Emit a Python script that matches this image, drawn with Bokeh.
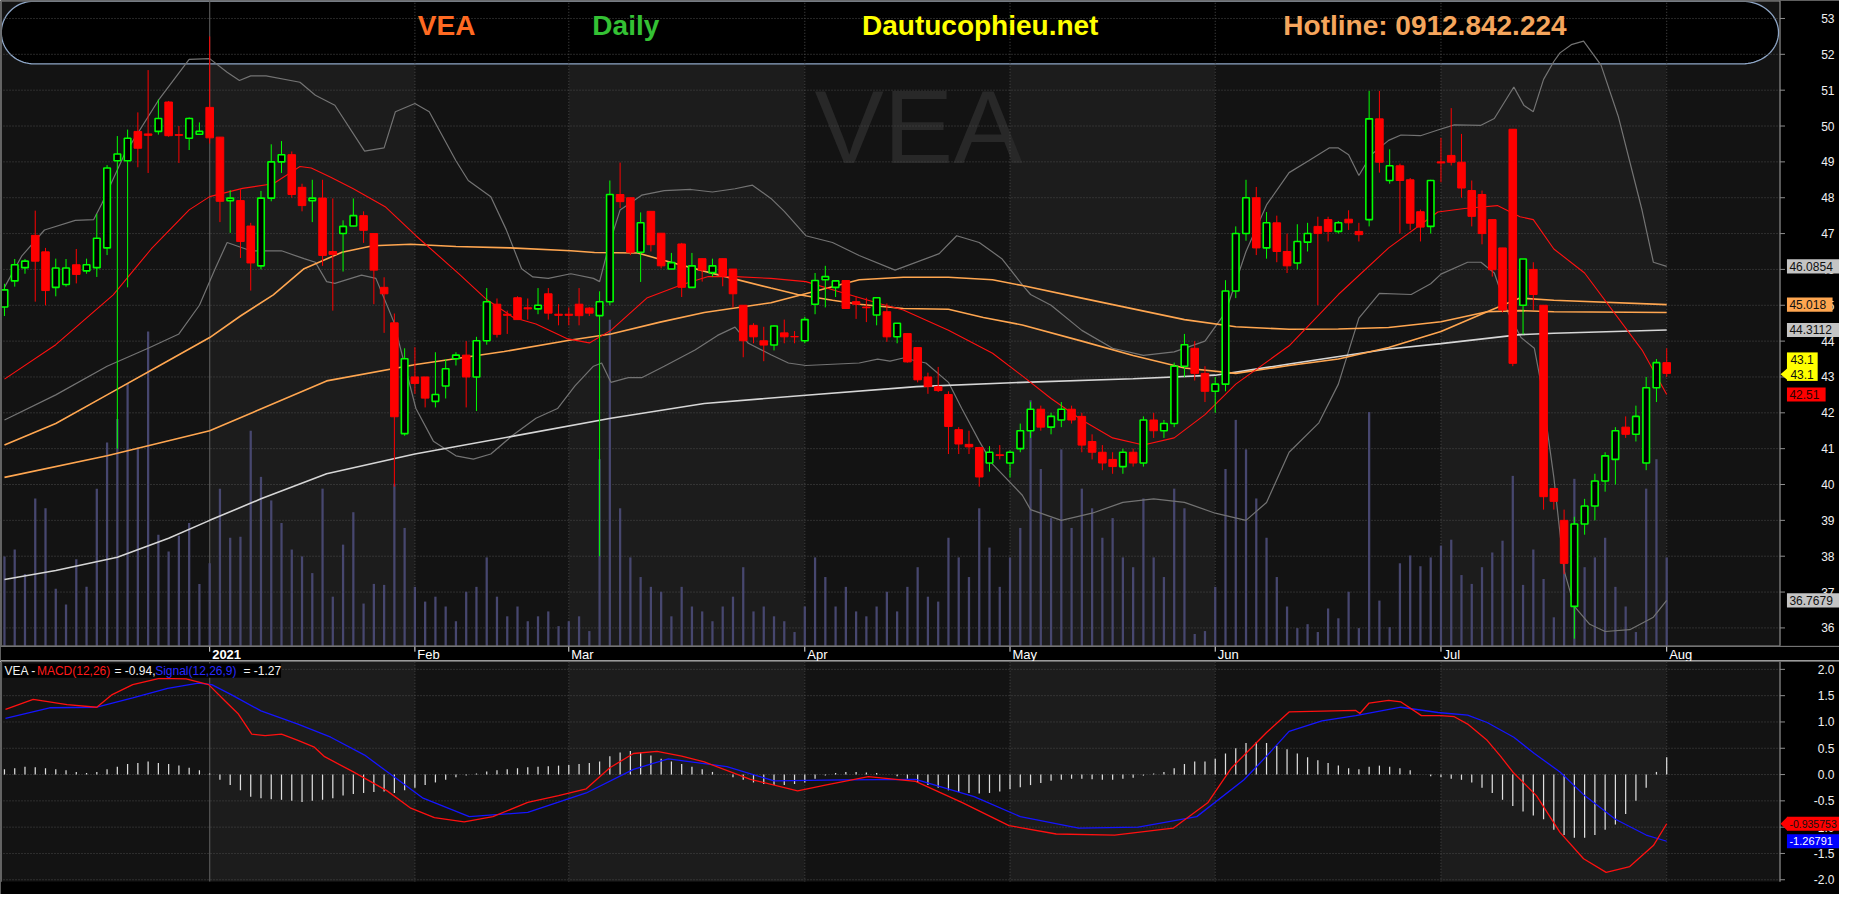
import math
from bokeh.plotting import figure
from bokeh.layouts import column
from bokeh.models import Range1d
from bokeh.core.properties import value
from bokeh.embed import file_html
from bokeh.resources import INLINE

# ============================ DATA ============================
ticker = "VEA"
tick_labels = ["2021", "Feb", "Mar", "Apr", "May", "Jun", "Jul", "Aug"]
tick_bars = [20, 40, 55, 78, 98, 118, 140, 162]      # bar index of first session of month

open_ = [44.95, 45.68, 46.05, 46.95, 46.49, 45.50, 45.58, 46.13, 45.96, 46.05,
         46.60, 49.03, 49.03, 49.85, 49.78, 49.85, 50.67, 49.76, 49.66, 49.77,
         50.52, 49.69, 47.92, 47.92, 47.21, 46.10, 47.99, 49.00, 49.20, 48.29,
         47.92, 47.99, 46.50, 47.00, 47.21, 47.50, 47.00, 45.50, 44.51, 41.42,
         43.00, 43.00, 42.32, 42.75, 43.51, 43.61, 43.00, 44.01, 45.03, 44.75,
         45.21, 44.93, 44.90, 45.32, 44.75, 44.75, 45.03, 44.92, 44.71, 45.10,
         48.09, 48.00, 46.48, 47.62, 47.01, 46.01, 46.71, 45.50, 46.30, 45.91,
         46.30, 46.01, 45.00, 44.44, 44.01, 43.89, 44.23, 44.13, 44.01, 45.03,
         45.71, 45.50, 45.69, 45.10, 44.95, 44.73, 44.82, 44.12, 44.21, 43.82,
         43.00, 42.73, 42.51, 41.53, 41.12, 41.03, 40.60, 40.83, 40.60, 41.00,
         41.50, 42.10, 41.60, 41.80, 42.10, 41.90, 41.20, 40.90, 40.70, 40.50,
         40.90, 40.60, 41.80, 41.50, 41.70, 43.30, 43.80, 43.10, 42.60, 42.80,
         45.40, 47.00, 48.00, 46.60, 47.30, 46.50, 46.18, 46.76, 47.20, 47.39,
         47.06, 47.40, 47.06, 47.39, 50.20, 48.48, 48.89, 48.50, 47.61, 47.20,
         49.00, 49.18, 48.99, 48.20, 48.09, 47.39, 46.60, 49.91, 45.00, 46.00,
         45.00, 39.89, 39.00, 36.60, 38.90, 39.40, 40.10, 40.70, 41.60, 41.40,
         40.60, 42.70, 43.40]
high_ = [45.60, 46.29, 46.29, 47.64, 46.60, 46.30, 46.29, 46.57, 46.30, 47.55,
         48.91, 49.72, 49.90, 50.38, 51.56, 50.74, 50.70, 50.00, 50.24, 50.10,
         52.50, 49.69, 48.21, 48.23, 47.30, 48.19, 49.49, 49.58, 49.29, 48.39,
         48.50, 48.50, 47.98, 47.37, 47.98, 47.62, 47.00, 45.78, 44.77, 43.80,
         43.83, 43.00, 43.69, 43.50, 43.69, 44.00, 44.12, 45.48, 45.19, 44.85,
         45.25, 45.19, 45.48, 45.48, 45.03, 44.94, 45.48, 44.95, 45.39, 48.48,
         48.98, 48.00, 47.59, 47.62, 47.01, 46.46, 46.74, 46.46, 46.30, 46.30,
         46.30, 46.01, 45.00, 44.50, 44.40, 44.44, 44.60, 44.28, 44.68, 45.90,
         46.10, 45.70, 45.70, 45.25, 45.21, 45.21, 45.05, 44.50, 44.21, 43.82,
         43.12, 43.28, 42.60, 41.60, 41.50, 41.05, 41.07, 41.10, 40.95, 41.70,
         42.30, 42.20, 42.00, 42.30, 42.20, 42.00, 41.40, 41.10, 40.90, 41.00,
         41.00, 41.90, 42.00, 41.80, 43.40, 44.20, 44.00, 43.30, 43.00, 45.70,
         47.20, 48.50, 48.30, 47.60, 47.50, 47.00, 47.26, 47.30, 47.47, 47.47,
         47.35, 47.65, 47.30, 50.98, 50.98, 49.35, 48.95, 48.55, 47.67, 48.50,
         49.67, 50.50, 49.78, 48.48, 48.20, 47.40, 46.60, 49.91, 46.29, 46.20,
         45.00, 39.90, 39.30, 39.10, 39.60, 40.30, 40.90, 41.60, 41.90, 42.20,
         43.00, 43.50, 43.80]
low_ = [44.70, 45.52, 45.88, 45.10, 45.00, 45.25, 45.52, 45.61, 45.88, 45.79,
        46.40, 41.00, 45.50, 48.85, 48.69, 49.76, 49.70, 48.97, 49.33, 49.76,
        49.51, 47.32, 47.02, 46.32, 45.41, 46.00, 47.90, 48.69, 48.00, 47.62,
        47.32, 46.10, 44.85, 45.94, 47.20, 46.74, 45.03, 44.23, 39.94, 41.36,
        42.53, 42.15, 42.15, 42.40, 43.32, 42.15, 42.05, 43.90, 44.10, 44.20,
        44.60, 44.60, 44.75, 44.60, 44.44, 44.44, 44.44, 44.70, 38.00, 45.00,
        47.71, 46.40, 45.65, 46.50, 46.03, 46.00, 45.23, 45.50, 45.66, 45.80,
        45.53, 44.94, 43.55, 43.94, 43.44, 43.74, 43.94, 43.94, 43.94, 44.75,
        44.94, 45.23, 44.90, 44.62, 44.53, 44.44, 43.98, 43.94, 43.40, 42.85,
        42.53, 42.58, 40.85, 40.85, 40.85, 39.94, 40.36, 40.70, 40.20, 40.90,
        41.30, 41.50, 41.40, 41.60, 41.70, 40.90, 40.70, 40.40, 40.30, 40.30,
        40.50, 40.50, 41.30, 41.30, 41.60, 43.00, 42.90, 42.30, 42.00, 42.60,
        45.20, 46.80, 46.40, 46.30, 46.20, 45.90, 46.00, 46.50, 45.00, 46.78,
        47.00, 47.10, 46.78, 47.20, 48.70, 48.39, 47.00, 47.10, 46.78, 47.00,
        48.43, 48.90, 48.00, 47.20, 46.70, 45.80, 44.80, 43.30, 44.19, 44.87,
        39.30, 39.30, 37.50, 35.70, 38.60, 39.00, 39.80, 40.00, 41.30, 41.20,
        40.40, 42.30, 43.00]
close_ = [45.43, 46.13, 46.23, 46.23, 45.41, 46.04, 46.04, 45.86, 46.13, 46.87,
          48.83, 49.22, 49.66, 49.38, 49.74, 50.21, 49.73, 49.74, 50.21, 49.85,
          49.67, 47.90, 47.99, 46.78, 46.18, 47.99, 49.00, 49.20, 48.09, 47.78,
          47.99, 46.39, 46.42, 47.20, 47.50, 47.09, 45.98, 45.32, 41.89, 43.51,
          42.82, 42.41, 42.51, 43.23, 43.61, 43.00, 44.01, 45.10, 44.19, 44.72,
          44.60, 44.90, 45.00, 44.78, 44.72, 44.72, 44.71, 44.78, 45.10, 48.09,
          47.89, 46.48, 47.30, 46.69, 46.10, 46.19, 45.50, 46.10, 45.98, 46.10,
          45.83, 45.32, 44.01, 44.12, 43.89, 44.42, 44.12, 44.12, 44.60, 45.69,
          45.80, 45.68, 44.91, 45.03, 44.93, 45.21, 44.12, 44.50, 43.42, 42.92,
          42.73, 42.62, 41.62, 41.13, 41.05, 40.21, 40.90, 40.81, 40.90, 41.50,
          42.10, 41.60, 41.90, 42.10, 41.80, 41.10, 40.90, 40.60, 40.50, 40.90,
          40.60, 41.80, 41.50, 41.70, 43.30, 43.90, 43.10, 42.60, 42.80, 45.40,
          47.00, 48.00, 46.60, 47.30, 46.50, 46.10, 46.78, 47.00, 47.00, 47.06,
          47.30, 47.30, 46.97, 50.20, 48.99, 48.89, 48.48, 47.29, 47.18, 48.48,
          48.97, 48.99, 48.27, 47.48, 47.00, 45.99, 44.87, 43.38, 46.29, 45.30,
          39.66, 39.53, 37.80, 38.90, 39.40, 40.10, 40.80, 41.50, 41.40, 41.90,
          42.70, 43.40, 43.10]
volume_k = [91, 98, 73, 150, 140, 58, 42, 88, 60, 160,
            207, 231, 267, 202, 320, 113, 96, 112, 125, 63,
            84, 160, 110, 111, 219, 172, 148, 125, 98, 91,
            74, 160, 50, 103, 136, 43, 63, 62, 165, 120,
            60, 45, 50, 40, 25, 55, 60, 90, 50, 30,
            40, 25, 30, 35, 20, 25, 30, 15, 190, 332,
            140, 90, 70, 60, 55, 30, 60, 40, 35, 25,
            40, 50, 80, 35, 40, 30, 25, 14, 40, 90,
            70, 40, 60, 35, 30, 40, 55, 35, 60, 80,
            50, 45, 110, 90, 70, 140, 100, 60, 90, 120,
            250, 180, 130, 200, 120, 160, 140, 110, 130, 90,
            80, 150, 90, 70, 160, 140, 12, 15, 60, 180,
            230, 200, 150, 110, 70, 40, 18, 22, 14, 38,
            28, 55, 18, 238, 46, 19, 84, 92, 81, 90,
            102, 108, 72, 63, 80, 95, 107, 173, 62, 98,
            68, 29, 120, 170, 80, 90, 110, 60, 40, 14,
            160, 190, 90]
macd_hist = [0.10, 0.12, 0.15, 0.14, 0.12, 0.10, 0.08, 0.05, 0.03, 0.05,
             0.10, 0.15, 0.20, 0.22, 0.25, 0.22, 0.20, 0.17, 0.13, 0.08,
             0.02, -0.10, -0.20, -0.30, -0.42, -0.45, -0.47, -0.48, -0.50, -0.52,
             -0.50, -0.48, -0.45, -0.40, -0.37, -0.35, -0.33, -0.32, -0.35, -0.30,
             -0.25, -0.20, -0.15, -0.10, -0.05, -0.02, 0.02, 0.06, 0.08, 0.10,
             0.12, 0.14, 0.15, 0.16, 0.17, 0.18, 0.20, 0.22, 0.25, 0.35,
             0.42, 0.45, 0.42, 0.36, 0.30, 0.25, 0.20, 0.15, 0.10, 0.05,
             0.00, -0.05, -0.10, -0.15, -0.18, -0.20, -0.20, -0.18, -0.15, -0.08,
             -0.02, 0.03, 0.05, 0.05, 0.04, 0.03, 0.00, -0.03, -0.08, -0.14,
             -0.20, -0.25, -0.30, -0.33, -0.35, -0.36, -0.35, -0.32, -0.28, -0.24,
             -0.20, -0.16, -0.12, -0.10, -0.08, -0.08, -0.09, -0.10, -0.10, -0.08,
             -0.06, -0.02, 0.02, 0.05, 0.12, 0.20, 0.25, 0.25, 0.30, 0.40,
             0.50, 0.60, 0.62, 0.60, 0.55, 0.48, 0.40, 0.33, 0.27, 0.22,
             0.17, 0.12, 0.10, 0.15, 0.17, 0.15, 0.12, 0.08, 0.00, -0.03,
             -0.05, -0.08, -0.10, -0.15, -0.25, -0.35, -0.48, -0.60, -0.70, -0.78,
             -0.85, -1.05, -1.15, -1.20, -1.20, -1.15, -1.05, -0.95, -0.75, -0.50,
             -0.25, 0.05, 0.33]

# indicator lines: (bar position, value)
ma20_pts = [(0, 42.94), (5, 43.9), (10.6, 45.29), (14.3, 46.57), (18, 47.66), (20, 48.03), (23.2, 48.26),
            (26.2, 48.39), (28.8, 48.87), (29.9, 48.83), (31.8, 48.57), (34, 48.25), (37.1, 47.75), (40.1, 46.94),
            (44.4, 45.85), (47, 45.16), (49.6, 44.66), (51.8, 44.48), (54.8, 44.07), (57, 43.95), (59.1, 44.3),
            (62.6, 45.2), (66, 45.57), (68.6, 45.8), (71.2, 45.8), (74.7, 45.75), (78.1, 45.66), (81.2, 45.39),
            (85.5, 45.03), (87.6, 44.87), (92, 44.3), (96.3, 43.66), (99.2, 43.03), (102, 42.4), (105, 41.8),
            (108, 41.3), (111, 41.1), (114, 41.3), (117, 41.95), (120, 42.8), (125.2, 43.87), (130, 45.3),
            (134.9, 46.6), (139.7, 47.6), (142.3, 47.7), (145.5, 47.78), (147.7, 47.47), (149, 47.39), (151, 46.57),
            (154, 45.9), (159.6, 43.75), (162, 42.51)]
bb_up_pts = [(0, 45.5), (1.7, 46.38), (3.9, 47.1), (6.9, 47.37), (8.7, 47.39), (9.5, 47.84), (11.7, 49.21),
             (15.1, 50.76), (18, 51.86), (20, 51.88), (21.7, 51.5), (22.9, 51.27), (24, 51.4), (25.5, 51.4),
             (28.8, 51.22), (30.3, 50.86), (32.2, 50.58), (35.1, 49.3), (37, 49.39), (38.1, 50.4), (40, 50.63),
             (41.4, 50.4), (44, 49.03), (45.2, 48.48), (47.4, 48.03), (48.9, 47.11), (50.4, 46.02), (51.5, 45.79),
             (53, 45.75), (55.2, 45.88), (57.4, 45.75), (58, 45.66), (58.9, 46.66), (60, 47.66), (62.1, 48.07),
             (64.3, 48.2), (66.9, 48.23), (69, 48.16), (71.2, 48.25), (72.9, 48.35), (74.7, 47.98), (76, 47.62),
             (78.1, 46.94), (80.7, 46.75), (83.3, 46.39), (86.8, 45.98), (91.1, 46.44), (92.8, 46.94), (95, 46.75),
             (97.2, 46.3), (99.2, 45.57), (100, 45.3), (102, 45.0), (105, 44.3), (108, 43.8), (111, 43.6),
             (114, 43.7), (117, 44.0), (119, 44.8), (121, 46.5), (123, 47.8), (125.2, 48.7), (127.1, 49.03),
             (129.1, 49.39), (130, 49.39), (131, 49.2), (132, 48.62), (133.2, 49.2), (134.9, 49.6), (136.1, 49.75),
             (138, 49.73), (139.7, 49.89), (141.3, 50.03), (143.9, 50.02), (145.2, 50.21), (147.1, 51.09),
             (148.1, 50.57), (149, 50.4), (150, 51.3), (151, 51.8), (151.6, 52.04), (152.7, 52.27), (153.9, 52.37),
             (155.6, 51.7), (157.3, 50.25), (159.6, 47.65), (160.7, 46.2), (162, 46.0854)]
bb_lo_pts = [(0, 41.8), (5, 42.5), (10, 43.3), (14, 43.8), (17, 44.2), (19, 45.0), (20.5, 46.0), (21.7, 46.75),
             (24, 46.52), (27, 46.52), (29.2, 46.3), (30.3, 46.2), (31.4, 45.66), (32.2, 45.61), (34.8, 45.84),
             (36.2, 45.75), (37.9, 44.57), (40.1, 42.12), (41.8, 41.21), (44, 40.8), (45.7, 40.71), (47.4, 40.85),
             (49.6, 41.39), (51.8, 41.85), (53.9, 42.12), (55.6, 42.75), (57.4, 43.3), (58.2, 43.39), (59.1, 42.85),
             (60.8, 42.98), (62.1, 42.98), (64.3, 43.3), (67.3, 43.75), (69.5, 44.16), (71.2, 44.39), (72.5, 43.94),
             (74.7, 43.62), (76.4, 43.39), (78.1, 43.32), (83.3, 43.39), (85.1, 43.5), (86.3, 43.44), (87.6, 43.53),
             (89.8, 43.39), (92, 42.85), (93.3, 42.12), (95, 41.21), (96.3, 40.57), (99.2, 39.7), (100, 39.3),
             (103, 39.0), (106, 39.2), (109, 39.5), (112, 39.6), (115, 39.5), (118, 39.2), (121, 39.0), (123, 39.5),
             (125.2, 40.9), (128.1, 41.72), (130, 42.8), (132, 44.64), (134, 45.33), (137.1, 45.3), (139, 45.6),
             (140, 45.87), (142.6, 46.2), (143.9, 46.2), (145.2, 45.9), (146.5, 44.82), (147.8, 44.1), (149.1, 43.8),
             (149.7, 42.9), (151, 40.2), (152, 37.6), (153, 36.6), (154.5, 36.1), (156, 35.9), (158.4, 35.95),
             (160.7, 36.3), (162, 36.7679)]
ma_a_pts = [(0, 41.1), (5, 41.7), (10, 42.5), (15, 43.3), (20, 44.1), (23, 44.7), (26.2, 45.29), (29.2, 46.02),
            (32.9, 46.48), (35.9, 46.66), (39.6, 46.7), (44, 46.64), (49.3, 46.6), (55.2, 46.52), (57.5, 46.47),
            (61.7, 46.46), (64.3, 46.25), (69, 45.89), (74.7, 45.48), (77.3, 45.3), (80.7, 45.14), (83.3, 45.03),
            (87.6, 44.91), (92, 44.89), (95.4, 44.66), (99.2, 44.45), (105, 44.0), (110, 43.6), (115, 43.25),
            (120, 43.1), (125.2, 43.32), (130, 43.5), (134.9, 43.82), (140, 44.27), (144.5, 44.82), (147.7, 44.85),
            (151, 44.82), (162, 44.8)]
ma_b_pts = [(0, 40.2), (10, 40.8), (20, 41.5), (31.4, 42.89), (40.1, 43.35), (48.7, 43.71), (55.2, 44.03),
            (59.1, 44.2), (63.9, 44.53), (68.2, 44.8), (74.7, 45.07), (79, 45.39), (83.3, 45.71), (87.6, 45.78),
            (92, 45.78), (96.3, 45.71), (99.2, 45.55), (105, 45.2), (110, 44.9), (115, 44.6), (120, 44.4),
            (125.2, 44.33), (130, 44.34), (134.9, 44.38), (140, 44.54), (144.5, 44.82), (147.7, 45.2), (151, 45.14),
            (162, 45.018)]
ma200_pts = [(0, 37.35), (5, 37.6), (11, 37.97), (16, 38.5), (20, 39.0), (25, 39.6), (31.4, 40.3), (40, 40.85),
             (49.6, 41.35), (59.1, 41.85), (68.2, 42.26), (78.1, 42.49), (88.9, 42.73), (99.2, 42.85), (110, 42.95),
             (118, 43.05), (125.2, 43.36), (134.9, 43.78), (140, 43.93), (147.7, 44.18), (151, 44.22), (162, 44.3112)]
macd_pts = [(0.1, 1.24), (2.8, 1.43), (6.1, 1.33), (9, 1.28), (10.5, 1.52), (12.5, 1.71), (15.1, 1.83),
            (17.7, 1.82), (19.9, 1.71), (21.5, 1.4), (22.8, 1.15), (24.1, 0.77), (25.4, 0.74), (27, 0.77),
            (28.6, 0.65), (30.2, 0.52), (31.2, 0.34), (34, 0.05), (37.3, -0.31), (39.6, -0.64), (41.9, -0.82),
            (44.8, -0.9), (47.6, -0.8), (51, -0.53), (54, -0.4), (56.7, -0.27), (59, 0.13), (61.3, 0.4),
            (63.6, 0.44), (66, 0.35), (68.2, 0.24), (72.7, -0.09), (77.3, -0.31), (80, -0.2), (84.2, -0.04),
            (88.8, -0.13), (93.3, -0.53), (97.9, -0.97), (102.5, -1.13), (108.2, -1.15), (113.9, -1.02),
            (117.3, -0.53), (119.6, 0.13), (123, 0.8), (125.2, 1.19), (131.7, 1.22), (132.1, 1.16), (133, 1.36),
            (134.9, 1.41), (136.1, 1.38), (138.1, 1.12), (140, 1.12), (141.3, 1.1), (142.6, 0.96), (144.5, 0.65),
            (145.8, 0.35), (147, 0.05), (149.3, -0.4), (151.6, -1.1), (153.9, -1.6), (156.1, -1.86),
            (158.4, -1.75), (160.7, -1.35), (162, -0.935753)]
signal_pts = [(0.1, 1.07), (4.4, 1.27), (9, 1.28), (12.5, 1.46), (15.9, 1.64), (18.9, 1.74), (20.2, 1.71),
              (22.1, 1.52), (25, 1.21), (28.6, 0.96), (31.8, 0.71), (35.1, 0.37), (40.8, -0.45), (45.3, -0.8),
              (51, -0.72), (56.7, -0.35), (61.3, 0.1), (64.7, 0.3), (70.4, 0.15), (75, -0.12), (81.9, -0.1),
              (88.8, -0.09), (94.5, -0.42), (99, -0.8), (104.7, -1.02), (110.5, -1.0), (116.2, -0.8),
              (120.8, -0.1), (123, 0.35), (125.2, 0.82), (128.4, 1.02), (131.7, 1.12), (136.1, 1.28),
              (139.7, 1.18), (142.6, 1.13), (144.5, 0.99), (147.1, 0.71), (149.1, 0.4), (151.6, 0.05),
              (154, -0.4), (157, -0.85), (160, -1.15), (162, -1.26791)]

price_ticks = list(range(36, 54))
macd_ticks = [-2.0, -1.5, -1.0, -0.5, 0.0, 0.5, 1.0, 1.5, 2.0]

n = len(close_)
for arr in (open_, high_, low_, volume_k, macd_hist):
    assert len(arr) == n, len(arr)

# ============================ GEOMETRY ============================
W, H1, H2 = 1839, 661, 233
FONT = value("Liberation Sans")
BAR_PX0, BAR_STEP = 211.0, 10.35        # reference pixel of bar 20, spacing of bars


def bx(px):       # reference x-pixel -> bar position
    return 20 + (px - BAR_PX0) / BAR_STEP


def py(y):        # reference y-pixel -> price
    return 53 - (y - 18.3) / 36.5


def my(y):        # reference y-pixel -> MACD value
    return (788.0 - y) / 53.5


def ppx(p):       # price -> reference y-pixel
    return 18.3 + (53 - p) * 36.5


def mpx(v):
    return 788.0 - 53.5 * v


XL, XR, XB = bx(0), bx(1855), bx(1795)
bars = list(range(n))
xr = Range1d(XL, XR)
band_edges = [XL] + tick_bars + [XB]
band_cols = ["#131313" if j % 2 == 0 else "#1c1c1c" for j in range(len(band_edges) - 1)]
GRID = "#4c4c4c"
AX = "#8e8e8e"


def base_fig(h, yr):
    f = figure(width=W, height=h, x_range=xr, y_range=yr, output_backend="svg",
               toolbar_location=None, x_axis_location=None, y_axis_location=None,
               min_border=0, background_fill_color="black", border_fill_color="black",
               outline_line_color=None)
    f.grid.visible = False
    return f


def tag(f, yc_px, label, bg, fg, conv, x1=1855, arrow=False, size="12px"):
    h = 7.2
    f.quad(left=bx(1802), right=bx(x1), top=conv(yc_px - h), bottom=conv(yc_px + h),
           fill_color=bg, line_color=None)
    if arrow:
        f.patch([bx(1795.5), bx(1802.5), bx(1802.5)], [conv(yc_px), conv(yc_px - h), conv(yc_px + h)],
                fill_color=bg, line_color=None)
    f.text(x=[bx(1804.5)], y=[conv(yc_px)], text=[label], text_font=FONT, text_font_size=size,
           text_color=fg, text_align="left", text_baseline="middle")


# ============================ MAIN PANEL ============================
p = base_fig(H1, Range1d(py(673), py(0)))
p.extra_y_ranges = {"vol": Range1d(-16, 657)}

p.quad(left=band_edges[:-1], right=band_edges[1:], bottom=py(657), top=py(0),
       fill_color=band_cols, line_color=None)

# header capsule
hx, hy = [], []
top_, bot_ = 0.8, 64.5
cy, ry = (top_ + bot_) / 2, (bot_ - top_) / 2
for j in range(41):
    th = math.pi / 2 + math.pi * j / 40
    hx.append(33.5 + 32.7 * math.cos(th)); hy.append(cy - ry * math.sin(th))
for j in range(41):
    th = -math.pi / 2 + math.pi * j / 40
    hx.append(1757.0 + 36.5 * math.cos(th)); hy.append(cy - ry * math.sin(th))
p.patch([bx(v) for v in hx], [py(v) for v in hy], fill_color="black", line_color="#8ea6c6", line_width=1.3)

# watermark
p.text(x=[bx(926)], y=[py(129)], text=[ticker], text_font=FONT, text_font_size="104px",
       text_color="#282828", text_align="center", text_baseline="middle")

# grid
p.segment(x0=XL, x1=XB, y0=price_ticks, y1=price_ticks, line_color=GRID, line_dash="1 2", line_width=1)
vt = [t for t in tick_bars if t != 20]
p.segment(x0=vt, x1=vt, y0=py(657), y1=py(0), line_color=GRID, line_dash="1 2", line_width=1)
p.segment(x0=[20], x1=[20], y0=py(657), y1=py(0), line_color="#555555", line_width=1.2)

# header texts
for txt, xpx, col in [(ticker, 421, "#ff6a22"), ("Daily", 597, "#34c134"),
                      ("Dautucophieu.net", 869, "#ffff00"), ("Hotline: 0912.842.224", 1294, "#f5a55c")]:
    p.text(x=[bx(xpx)], y=[py(25)], text=[txt], text_font=FONT, text_font_size="28px",
           text_font_style="bold", text_color=col, text_align="left", text_baseline="alphabetic")

# volume
p.vbar(x=bars, top=volume_k, bottom=0, width=0.22, y_range_name="vol",
       fill_color="#47476f", line_color=None)


def draw_line(f, pts, color, w):
    f.line([a for a, b in pts], [b for a, b in pts], line_color=color, line_width=w)


draw_line(p, bb_up_pts, "#737373", 1.2)
draw_line(p, bb_lo_pts, "#737373", 1.2)
draw_line(p, ma200_pts, "#d6d6d6", 1.6)
draw_line(p, ma_b_pts, "#ffa650", 1.6)
draw_line(p, ma_a_pts, "#ffa650", 1.6)
draw_line(p, ma20_pts, "#ff1010", 1.1)

# candles
up = [i for i in bars if close_[i] > open_[i]]
dn = [i for i in bars if close_[i] <= open_[i]]
p.segment(x0=up, x1=up, y0=[high_[i] for i in up], y1=[low_[i] for i in up], line_color="#00ff00", line_width=1)
p.vbar(x=up, top=[close_[i] for i in up], bottom=[open_[i] for i in up], width=0.64,
       fill_color="black", line_color="#00ff00", line_width=1.6)
p.segment(x0=dn, x1=dn, y0=[high_[i] for i in dn], y1=[low_[i] for i in dn], line_color="#ff0000", line_width=1)
p.vbar(x=dn, top=[open_[i] for i in dn], bottom=[close_[i] for i in dn], width=0.74,
       fill_color="#ff0000", line_color="#ff0000", line_width=1)

# date strip
p.quad(left=XL, right=XR, bottom=py(673), top=py(657), fill_color="black", line_color=None)
p.segment(x0=XL, x1=XR, y0=py(657.4), y1=py(657.4), line_color="#9a9a9a", line_width=1.3)
p.segment(x0=XL, x1=XR, y0=py(672.2), y1=py(672.2), line_color="#9a9a9a", line_width=1.3)
p.segment(x0=tick_bars, x1=tick_bars, y0=py(658), y1=py(663), line_color="#e6e6e6", line_width=1)
p.text(x=[tick_bars[0] + 2.5 / BAR_STEP], y=[py(665.5)], text=[tick_labels[0]], text_font=FONT,
       text_font_size="13px", text_font_style="bold", text_color="white", text_align="left",
       text_baseline="middle")
p.text(x=[t + 2.5 / BAR_STEP for t in tick_bars[1:]], y=py(665.5), text=tick_labels[1:], text_font=FONT,
       text_font_size="13px", text_color="white", text_align="left", text_baseline="middle")

# right axis area
p.quad(left=XB, right=XR, bottom=py(657), top=py(0), fill_color="black", line_color=None)
p.segment(x0=[bx(0.8)], x1=[bx(0.8)], y0=py(657), y1=py(0), line_color="#6c6c6c", line_width=1.2)
p.segment(x0=XL, x1=XB, y0=py(0.6), y1=py(0.6), line_color="#6c6c6c", line_width=1.2)
p.segment(x0=[XB], x1=[XB], y0=py(657), y1=py(0), line_color=AX, line_width=1.2)
p.segment(x0=XB, x1=bx(1800), y0=price_ticks, y1=price_ticks, line_color=AX, line_width=1)
p.text(x=bx(1850), y=price_ticks, text=[str(t) for t in price_ticks], text_font=FONT, text_font_size="12px",
       text_color="#f0f0f0", text_align="right", text_baseline="middle")

# value tags
tag(p, ppx(46.0854), "46.0854", "#c4c4c4", "#111111", py)
tag(p, ppx(45.018), "45.018", "#ffa650", "#111111", py, x1=1848)
tag(p, ppx(44.3112), "44.3112", "#c4c4c4", "#111111", py)
# yellow double tag for last close
p.quad(left=bx(1802), right=bx(1833), top=py(358.3), bottom=py(387.3), fill_color="#ffff00", line_color=None)
p.patch([bx(1795.5), bx(1802.5), bx(1802.5)], [py(380.5), py(374.5), py(386.5)],
        fill_color="#ffff00", line_color=None)
p.text(x=[bx(1805.5), bx(1805.5)], y=[py(365.3), py(380.3)], text=["43.1", "43.1"], text_font=FONT,
       text_font_size="12px", text_color="#111111", text_align="left", text_baseline="middle")
tag(p, ppx(42.51), "42.51", "#ff0000", "#2a0000", py, x1=1841)
tag(p, ppx(36.7679), "36.7679", "#c4c4c4", "#111111", py)

# ============================ MACD PANEL ============================
q = base_fig(H2, Range1d(my(910), my(673)))
q.quad(left=band_edges[:-1], right=band_edges[1:], bottom=my(897), top=my(673),
       fill_color=band_cols, line_color=None)
q.segment(x0=XL, x1=XB, y0=macd_ticks, y1=macd_ticks, line_color=GRID, line_dash="1 2", line_width=1)
q.segment(x0=vt, x1=vt, y0=my(897), y1=my(673), line_color=GRID, line_dash="1 2", line_width=1)
q.segment(x0=[20], x1=[20], y0=my(897), y1=my(673), line_color="#555555", line_width=1.2)

q.vbar(x=bars, top=macd_hist, bottom=0, width=0.12, fill_color="#dedede", line_color=None)
draw_line(q, signal_pts, "#1515ff", 1.3)
draw_line(q, macd_pts, "#ff1010", 1.3)

# legend line
q.quad(left=bx(2.5), right=bx(283), top=my(675), bottom=my(689.5), fill_color="black", line_color=None)
for txt, xpx, col in [("VEA -", 4, "#f2f2f2"), ("MACD(12,26)", 36.7, "#ff1a1a"), ("= -0.94,", 115, "#f2f2f2"),
                      ("Signal(12,26,9)", 156, "#2a2aff"), ("= -1.27", 245, "#f2f2f2")]:
    q.text(x=[bx(xpx)], y=[my(682.3)], text=[txt], text_font=FONT, text_font_size="12px",
           text_color=col, text_align="left", text_baseline="middle")

q.quad(left=XL, right=XR, bottom=my(910), top=my(897), fill_color="black", line_color=None)
q.quad(left=XB, right=XR, bottom=my(910), top=my(673), fill_color="black", line_color=None)
q.segment(x0=[bx(0.8)], x1=[bx(0.8)], y0=my(897), y1=my(673), line_color="#6c6c6c", line_width=1.2)
q.segment(x0=[XB], x1=[XB], y0=my(897), y1=my(673), line_color=AX, line_width=1.2)
q.segment(x0=XB, x1=bx(1800), y0=macd_ticks, y1=macd_ticks, line_color=AX, line_width=1)
q.text(x=bx(1850), y=macd_ticks, text=["%.1f" % t for t in macd_ticks], text_font=FONT, text_font_size="12px",
       text_color="#f0f0f0", text_align="right", text_baseline="middle")
tag(q, mpx(-0.935753), "-0.935753", "#ff0000", "#111111", my, arrow=True, size="10.5px")
tag(q, mpx(-1.26791), "-1.26791", "#0000ff", "#ffffff", my, size="11px")

layout = column(p, q, spacing=0)
open("out.html", "w").write(file_html(layout, INLINE))
